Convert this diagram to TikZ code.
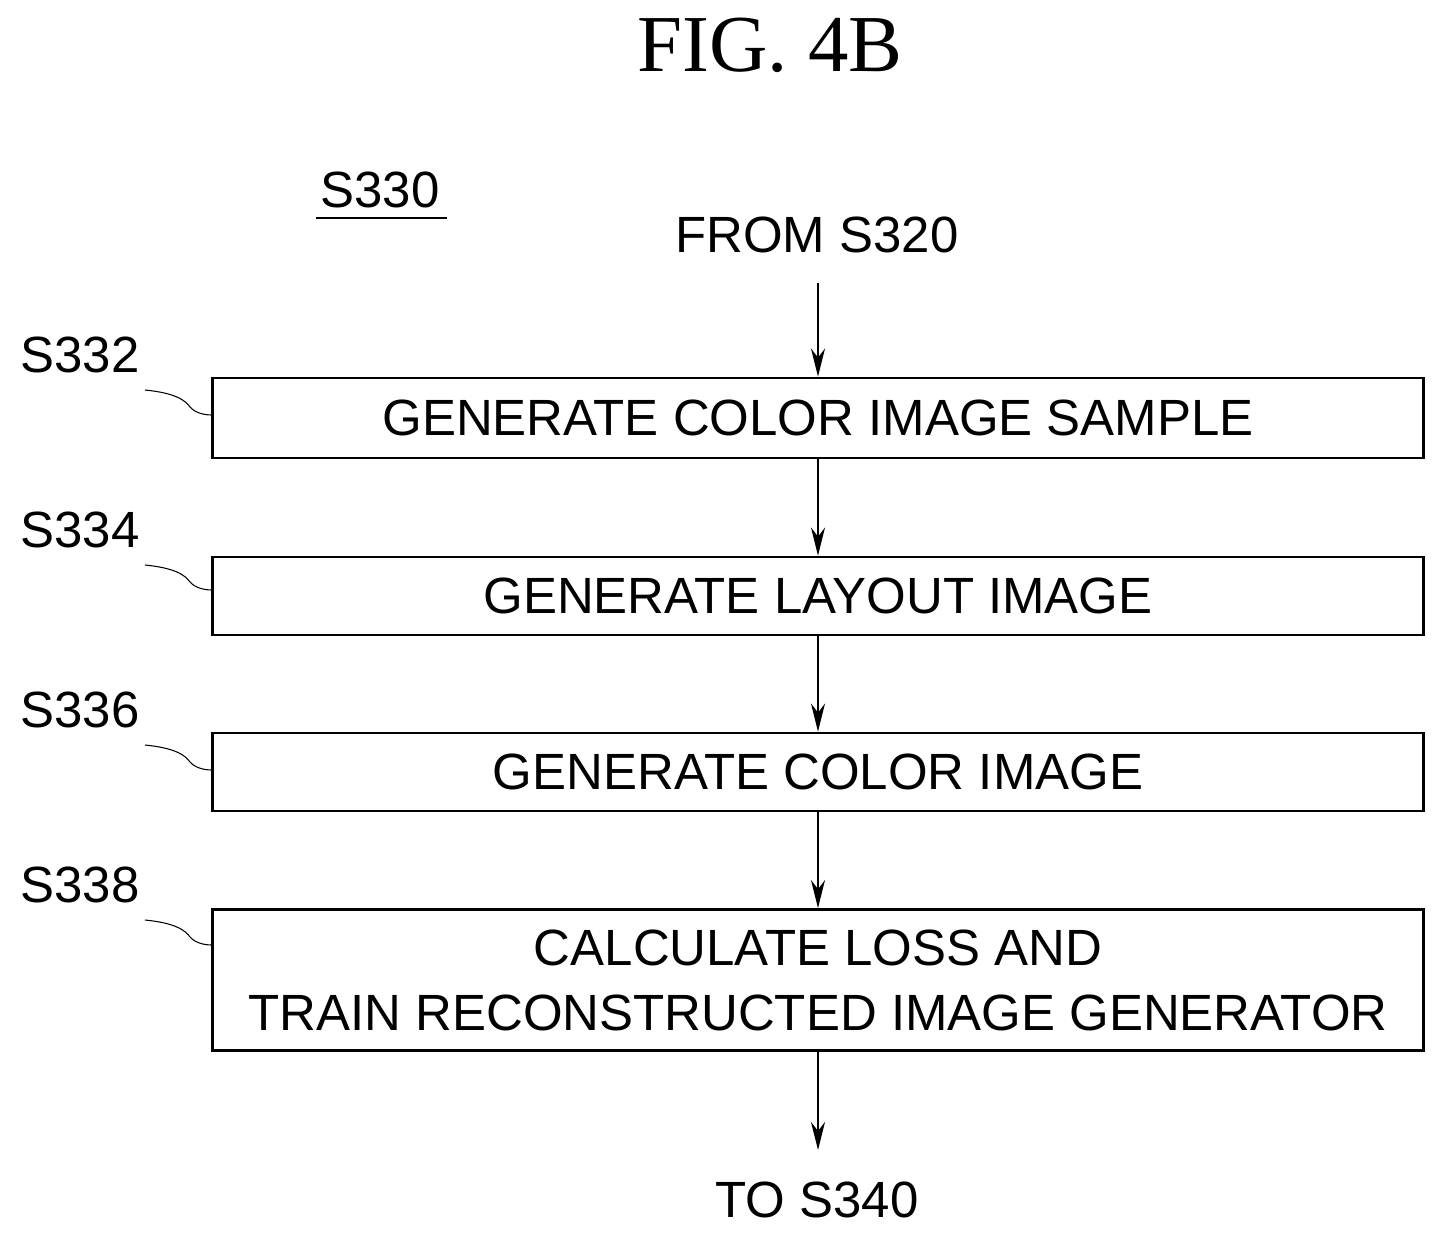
\documentclass[tikz,border=0pt]{standalone}
\usepackage{fontspec}
\setsansfont{Liberation Sans}
\newfontfamily\titlefont{Liberation Serif}
\usetikzlibrary{positioning,arrows.meta}
\tikzset{
  stepbox/.style={draw, line width=1.6pt, minimum width=24.22cm, inner sep=0pt, align=center},
  steptext/.style={font=\sffamily\fontsize{29}{37}\selectfont},
  flow/.style={-{Stealth[length=16pt,width=8pt]}, line width=1pt}
}
\begin{document}
\begin{tikzpicture}[x=0.02cm, y=-0.02cm]
    \useasboundingbox (0,0) rectangle (1446,1239);
    % title
    \node (title) at (770,45) {\titlefont\fontsize{46}{50}\selectfont FIG. 4B};
    \node[steptext] (s330) at (380,190) {S330};
    \draw[line width=1pt] (316,218) -- (447,218);
    \node[steptext] (from) at (817,235) {FROM S320};

    % boxes
    \node[stepbox, steptext, minimum height=1.6cm] (b1) at (818,418) {GENERATE COLOR IMAGE SAMPLE};
    \node[stepbox, steptext, minimum height=1.56cm] (b2) at (818,596) {GENERATE LAYOUT IMAGE};
    \node[stepbox, steptext, minimum height=1.56cm] (b3) at (818,772) {GENERATE COLOR IMAGE};
    \node[stepbox, steptext, minimum height=2.82cm] (b4) at (818,980) {CALCULATE LOSS AND\\TRAIN RECONSTRUCTED IMAGE GENERATOR};
    \node[steptext] (to) at (817,1200) {TO S340};

    % step labels with leaders
    \foreach \lab/\ly/\bx in {S332/355/b1, S334/530/b2, S336/710/b3, S338/885/b4} {
        \node[steptext] (l\lab) at (80,\ly) {\lab};
        \draw[line width=0.6pt] (145,\ly+35) .. controls (175,\ly+38) and (185,\ly+45) .. (190,\ly+52)
             .. controls (195,\ly+58) and (205,\ly+60) .. (\bx.west |- 0,\ly+60);
    }

    % connectors
    \coordinate (top) at (818,283);
    \coordinate (bot) at (818,1150);
    \draw[flow] (top) -- (b1.north);
    \draw[flow] (b1) -- (b2);
    \draw[flow] (b2) -- (b3);
    \draw[flow] (b3) -- (b4);
    \draw[flow] (b4.south) -- (bot);
\end{tikzpicture}
\end{document}
